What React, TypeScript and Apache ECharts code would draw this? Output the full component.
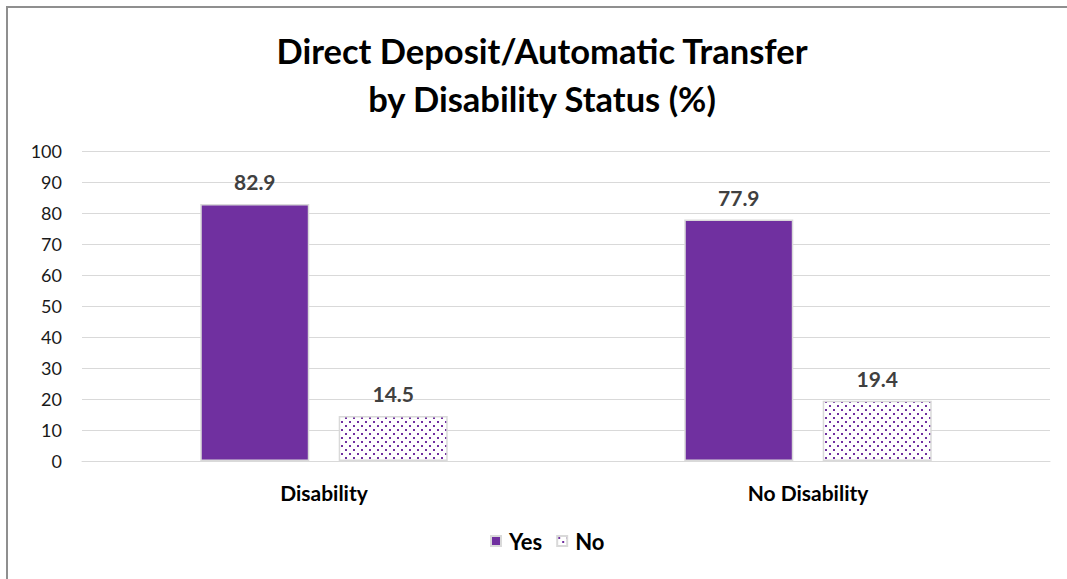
import React, { useEffect, useRef } from "react";
import * as echarts from "echarts";

const categories = ["Disability", "No Disability"];
const yesValues = [82.9, 77.9];
const noValues = [14.5, 19.4];
const seriesNames = ["Yes", "No"];
const titleLines = ["Direct Deposit/Automatic Transfer", "by Disability Status (%)"];

const PURPLE = "#7030A0";
const FONT = "Lato, 'Open Sans', sans-serif";

function makeDots(): HTMLCanvasElement {
  const c = document.createElement("canvas");
  c.width = 8;
  c.height = 8;
  const ctx = c.getContext("2d")!;
  ctx.fillStyle = "#ffffff";
  ctx.fillRect(0, 0, 8, 8);
  ctx.fillStyle = PURPLE;
  ctx.fillRect(1, 1, 2, 2);
  ctx.fillRect(5, 5, 2, 2);
  return c;
}

export default function App() {
  const ref = useRef<HTMLDivElement>(null);
  useEffect(() => {
    if (!ref.current) return;
    const chart = echarts.init(ref.current, undefined, { renderer: "svg" });
    const dots = makeDots();
    const labelStyle = {
      show: true,
      position: "top",
      distance: 12,
      fontFamily: FONT,
      fontWeight: "bold",
      fontSize: 21,
      color: "#404040",
    };
    chart.setOption({
      animation: false,
      backgroundColor: "#ffffff",
      title: {
        text: titleLines.join("\n"),
        left: 537,
        textAlign: "center",
        top: 21,
        textStyle: {
          fontFamily: FONT,
          fontWeight: "bold",
          fontSize: 34.5,
          lineHeight: 48,
          color: "#000000",
        },
      },
      legend: {
        data: seriesNames,
        bottom: 22,
        left: 485,
        itemWidth: 10,
        itemHeight: 10,
        itemGap: 14,
        icon: "rect",
        textStyle: { fontFamily: FONT, fontWeight: "bold", fontSize: 22, color: "#000", padding: [0, 0, 0, 3] },
      },
      grid: { left: 82, right: 17, top: 151, bottom: 118, containLabel: false },
      xAxis: {
        type: "category",
        data: categories,
        axisLine: { lineStyle: { color: "#d9d9d9", width: 1 } },
        axisTick: { show: false },
        axisLabel: {
          margin: 21,
          fontFamily: FONT,
          fontWeight: "bold",
          fontSize: 21,
          color: "#000",
        },
      },
      yAxis: {
        type: "value",
        min: 0,
        max: 100,
        interval: 10,
        axisLine: { show: false },
        axisTick: { show: false },
        splitLine: { lineStyle: { color: "#d9d9d9", width: 1 } },
        axisLabel: { fontFamily: FONT, fontSize: 18, color: "#1a1a1a", margin: 20 },
      },
      series: [
        {
          name: seriesNames[0],
          type: "bar",
          data: yesValues,
          barWidth: 109,
          barGap: "27%",
          itemStyle: { color: PURPLE, borderColor: "#d9d9d9", borderWidth: 1.5 },
          label: labelStyle,
        },
        {
          name: seriesNames[1],
          type: "bar",
          data: noValues,
          barWidth: 109,
          barGap: "27%",
          itemStyle: {
            color: { image: dots, repeat: "repeat" },
            borderColor: "#d9d9d9",
            borderWidth: 1.5,
          },
          label: labelStyle,
        },
      ],
    });
    return () => chart.dispose();
  }, []);
  return (
    <div
      style={{
        position: "fixed",
        left: 0,
        top: 0,
        width: 1067,
        height: 579,
        overflow: "hidden",
        background: "#fff",
      }}
    >
      <div ref={ref} style={{ position: "absolute", left: 0, top: 0, width: 1067, height: 579 }} />
      <div
        style={{
          position: "absolute",
          left: 6,
          top: 6,
          width: 1100,
          height: 600,
          border: "2px solid #8f8f8f",
          pointerEvents: "none",
        }}
      />
    </div>
  );
}
